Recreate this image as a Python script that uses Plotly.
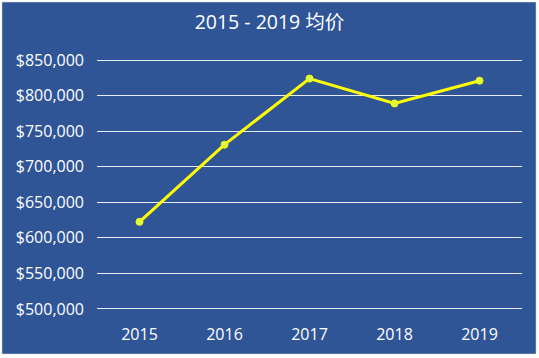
import plotly.graph_objects as go

years = ["2015", "2016", "2017", "2018", "2019"]
avg_price = [622500, 731000, 824000, 789000, 821000]
y_ticks = [500000, 550000, 600000, 650000, 700000, 750000, 800000, 850000]
y_tick_labels = ["$500,000", "$550,000", "$600,000", "$650,000", "$700,000", "$750,000", "$800,000", "$850,000"]
title_text = "2015 - 2019 均价"

W, H = 539, 358
y_lo, y_hi = 500000, 850000
pad = 1500
px_per_unit = (309 - 60) / (y_hi - y_lo)
pad_px = pad * px_per_unit
L, R = 97, 17
T = 60 - pad_px
B = H - 309 - pad_px
pw, ph = W - L - R, H - T - B

BLUE = "#2F5597"
FONT = "Open Sans, Noto Sans CJK SC, sans-serif"

fig = go.Figure()
fig.add_trace(go.Scatter(
    x=years, y=avg_price, mode="lines+markers",
    line=dict(color="#FFFF00", width=3),
    marker=dict(color="#D9FF40", size=7, line=dict(color="#FFFF00", width=1)),
    showlegend=False, hoverinfo="skip",
))

fig.add_shape(
    type="rect", xref="paper", yref="paper", layer="below",
    x0=(2 - L) / pw, x1=(536 - L) / pw,
    y0=(ph - (354 - T)) / ph, y1=(ph - (2 - T)) / ph,
    fillcolor=BLUE, line=dict(color="#D0D0D0", width=0.5),
)

fig.update_layout(
    width=W, height=H,
    margin=dict(l=L, r=R, t=T, b=B, pad=0),
    paper_bgcolor="white",
    plot_bgcolor="rgba(0,0,0,0)",
    font=dict(family=FONT, color="white", size=16),
    title=dict(text=title_text, x=0.5, xanchor="center", xref="container",
               y=1 - 22 / H, yanchor="middle",
               font=dict(family=FONT, size=19.5, color="white")),
    xaxis=dict(
        type="category", range=[-0.5, 4.5], showgrid=False, zeroline=False,
        showline=False, ticks="", tickfont=dict(size=16, color="white"),
        ticklabelstandoff=13,
    ),
    yaxis=dict(
        range=[y_lo - pad, y_hi + pad], tickvals=y_ticks, ticktext=y_tick_labels,
        showgrid=True, gridcolor="#E8ECF4", gridwidth=1, zeroline=False,
        showline=False, ticks="", tickfont=dict(size=16, color="white"),
        ticklabelstandoff=12,
    ),
)

fig.write_html("out.html", config={"displayModeBar": False},
               post_script="document.body.style.margin='0';")
